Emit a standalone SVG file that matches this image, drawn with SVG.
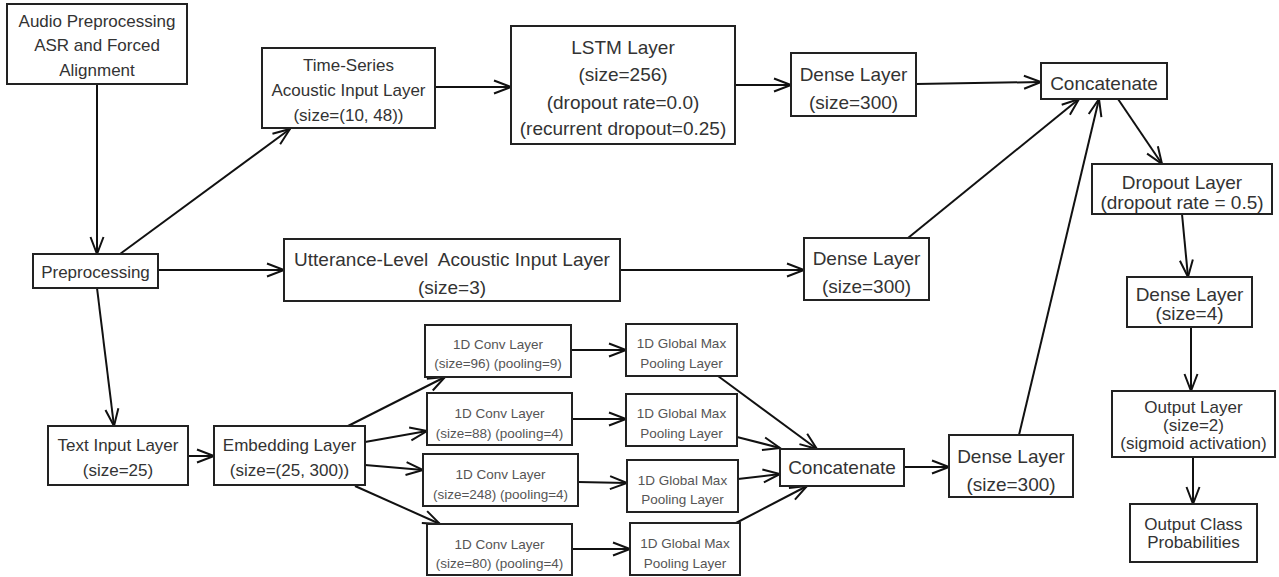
<svg xmlns="http://www.w3.org/2000/svg" width="1279" height="577" viewBox="0 0 1279 577">
<style>
rect{fill:#fff;stroke:#222;stroke-width:2}
text{font-family:"Liberation Sans",Arial,sans-serif;text-anchor:middle;fill:#333}
.m{font-size:17px}
.l{font-size:19px}
.s{font-size:13.5px;fill:#555}
#connectors path{fill:none;stroke:#111;stroke-width:2;marker-end:url(#ah)}
</style>
<defs>
<marker id="ah" markerUnits="userSpaceOnUse" markerWidth="22" markerHeight="18" viewBox="0 0 22 18" refX="19" refY="9" orient="auto">
<path d="M2,2.5 L19,9 L2,15.5" fill="none" stroke="#111" stroke-width="2"/>
</marker>
</defs>
<rect x="0" y="0" width="1279" height="577" style="stroke:none;fill:#fff"/>
<g id="connectors">
<path d="M97,84 L97,254"/>
<path d="M120,254 L290,129"/>
<path d="M158,270 L284,270"/>
<path d="M97,288 L114,426"/>
<path d="M435,87 L511,87"/>
<path d="M735,85 L791,85"/>
<path d="M916,84 L1041,82"/>
<path d="M620,270 L804,270"/>
<path d="M908,238 L1079,99"/>
<path d="M1019,435 L1099,99"/>
<path d="M1118,99 L1162,164"/>
<path d="M1182,214 L1188,277"/>
<path d="M1191,327 L1191,391"/>
<path d="M1193,457 L1193,504"/>
<path d="M188,456 L214,456"/>
<path d="M348,426 L445,377"/>
<path d="M365,442 L427,431"/>
<path d="M365,465 L423,470"/>
<path d="M355,486 L440,524"/>
<path d="M571,350 L626,350"/>
<path d="M572,419 L626,419"/>
<path d="M578,482 L627,483"/>
<path d="M572,549 L630,549"/>
<path d="M718,376 L817,449"/>
<path d="M737,437 L780,448"/>
<path d="M738,479 L780,474"/>
<path d="M736,523 L807,486"/>
<path d="M904,467 L949,467"/>
</g>
<g id="audio"><rect x="7" y="4" width="180" height="80"/><text class="m" x="97" y="27">Audio Preprocessing</text><text class="m" x="97" y="51">ASR and Forced</text><text class="m" x="97" y="76">Alignment</text></g>
<g id="timeseries"><rect x="262" y="48" width="173" height="80"/><text class="m" x="348.5" y="71">Time-Series</text><text class="m" x="348.5" y="96">Acoustic Input Layer</text><text class="m" x="348.5" y="121">(size=(10, 48))</text></g>
<g id="lstm"><rect x="511" y="26" width="224" height="118"/><text class="l" x="623" y="54">LSTM Layer</text><text class="l" x="623" y="81">(size=256)</text><text class="l" x="623" y="109">(dropout rate=0.0)</text><text class="l" x="623" y="135">(recurrent dropout=0.25)</text></g>
<g id="dense1"><rect x="791" y="53" width="125" height="63"/><text class="l" x="853.5" y="81">Dense Layer</text><text class="l" x="853.5" y="109">(size=300)</text></g>
<g id="concat1"><rect x="1041" y="63" width="126" height="36"/><text class="l" x="1104" y="89.5">Concatenate</text></g>
<g id="dropout"><rect x="1092" y="164" width="180" height="50"/><text class="l" x="1182" y="188.5">Dropout Layer</text><text class="l" x="1182" y="208.5">(dropout rate = 0.5)</text></g>
<g id="dense4"><rect x="1127" y="277" width="125" height="50"/><text class="l" x="1189.5" y="300.5">Dense Layer</text><text class="l" x="1189.5" y="319.5">(size=4)</text></g>
<g id="output"><rect x="1112" y="391" width="163" height="66"/><text class="m" x="1193.5" y="413">Output Layer</text><text class="m" x="1193.5" y="431">(size=2)</text><text class="m" x="1193.5" y="449">(sigmoid activation)</text></g>
<g id="probs"><rect x="1130" y="504" width="127" height="58"/><text class="m" x="1193.5" y="530">Output Class</text><text class="m" x="1193.5" y="548">Probabilities</text></g>
<g id="prep"><rect x="33" y="254" width="125" height="34"/><text class="m" x="95.5" y="278">Preprocessing</text></g>
<g id="utterance"><rect x="284" y="239" width="336" height="62"/><text class="l" x="452" y="265.5" xml:space="preserve" style="white-space:pre">Utterance-Level  Acoustic Input Layer</text><text class="l" x="452" y="293.5">(size=3)</text></g>
<g id="dense2"><rect x="804" y="238" width="125" height="62"/><text class="l" x="866.5" y="264.5">Dense Layer</text><text class="l" x="866.5" y="292.5">(size=300)</text></g>
<g id="textinput"><rect x="48" y="426" width="140" height="59"/><text class="m" x="118" y="451">Text Input Layer</text><text class="m" x="118" y="476">(size=25)</text></g>
<g id="embedding"><rect x="214" y="426" width="151" height="59"/><text class="m" x="289.5" y="451">Embedding Layer</text><text class="m" x="289.5" y="476">(size=(25, 300))</text></g>
<g id="conv1"><rect x="425" y="325" width="146" height="52"/><text class="s" x="498" y="348.7">1D Conv Layer</text><text class="s" x="498" y="367.7">(size=96) (pooling=9)</text></g>
<g id="pool1"><rect x="626" y="324" width="111" height="52"/><text class="s" x="681.5" y="347.7">1D Global Max</text><text class="s" x="681.5" y="367.7">Pooling Layer</text></g>
<g id="conv2"><rect x="427" y="393" width="145" height="52"/><text class="s" x="499.5" y="417.7">1D Conv Layer</text><text class="s" x="499.5" y="437.7">(size=88) (pooling=4)</text></g>
<g id="pool2"><rect x="626" y="394" width="111" height="52"/><text class="s" x="681.5" y="417.7">1D Global Max</text><text class="s" x="681.5" y="437.7">Pooling Layer</text></g>
<g id="conv3"><rect x="423" y="454" width="155" height="52"/><text class="s" x="500.5" y="478.7">1D Conv Layer</text><text class="s" x="500.5" y="498.7">(size=248) (pooling=4)</text></g>
<g id="pool3"><rect x="627" y="460" width="111" height="52"/><text class="s" x="682.5" y="484.7">1D Global Max</text><text class="s" x="682.5" y="503.7">Pooling Layer</text></g>
<g id="conv4"><rect x="427" y="524" width="145" height="51"/><text class="s" x="499.5" y="548.7">1D Conv Layer</text><text class="s" x="499.5" y="567.7">(size=80) (pooling=4)</text></g>
<g id="pool4"><rect x="630" y="523" width="110" height="52"/><text class="s" x="685" y="547.7">1D Global Max</text><text class="s" x="685" y="567.7">Pooling Layer</text></g>
<g id="concat2"><rect x="780" y="449" width="124" height="37"/><text class="l" x="842" y="473.5">Concatenate</text></g>
<g id="dense3"><rect x="949" y="435" width="124" height="62"/><text class="l" x="1011" y="462.5">Dense Layer</text><text class="l" x="1011" y="490.5">(size=300)</text></g>
</svg>
